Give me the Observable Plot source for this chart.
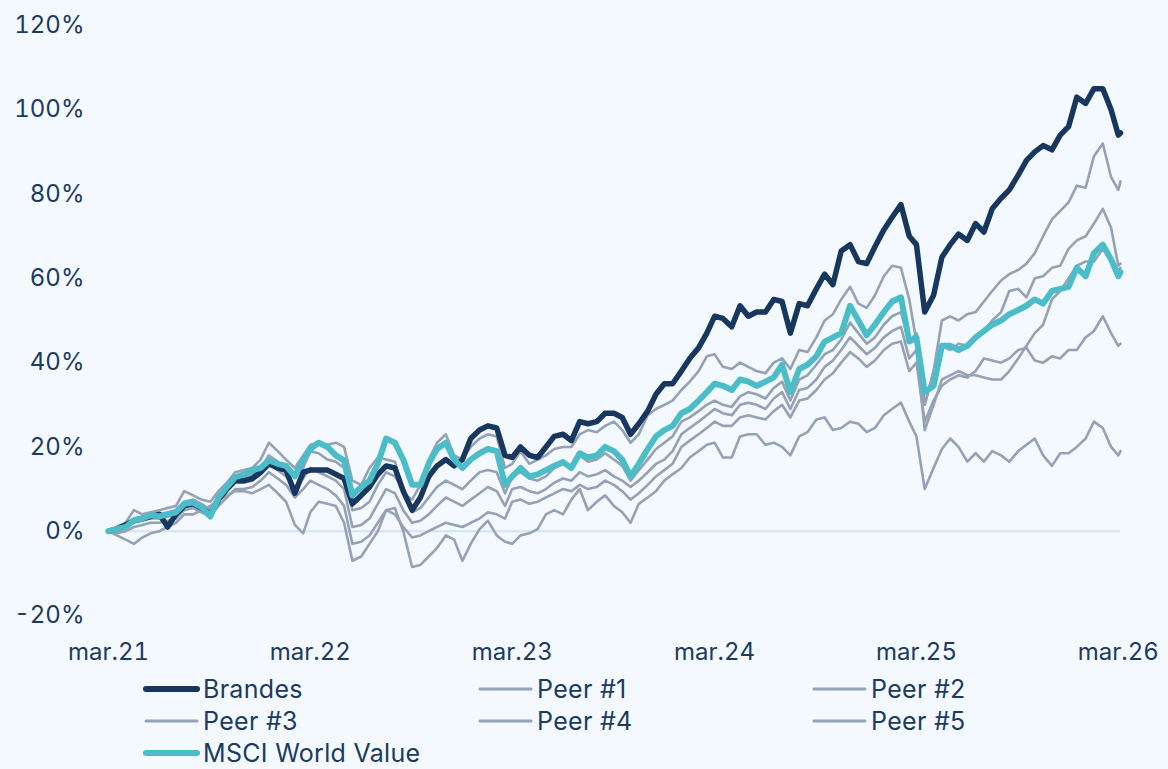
<!DOCTYPE html>
<html>
<head>
<meta charset="utf-8">
<script src="https://cdn.jsdelivr.net/npm/d3@7"></script>
<script src="https://cdn.jsdelivr.net/npm/@observablehq/plot@0.6"></script>
<style>
  html, body { margin: 0; padding: 0; background: #f3f9fe; }
  #wrap { position: relative; width: 1168px; height: 769px; background: #f3f9fe; overflow: hidden;
          font-family: Inter, "Open Sans", sans-serif; color: #1d3a5f; }
  #chart svg { display: block; }
  .item { position: absolute; height: 26px; line-height: 26px; display: flex; align-items: center; font-size: 25px; letter-spacing: 0.3px; white-space: nowrap; }
  .item svg { display: block; margin-right: 3px; }
</style>
</head>
<body>
<div id="wrap">
  <div id="chart"></div>
  <div id="legend"></div>
</div>
<script>
// ---- data (cumulative return, %) ----
const dates = [
"2021-03-01","2021-03-16","2021-04-01","2021-04-16","2021-05-01","2021-05-16","2021-06-01","2021-06-16","2021-07-01","2021-07-16","2021-08-01","2021-08-16","2021-09-01","2021-09-16","2021-10-01","2021-10-16","2021-11-01","2021-11-16","2021-12-01","2021-12-16",
"2022-01-01","2022-01-16","2022-02-01","2022-02-16","2022-03-01","2022-03-16","2022-04-01","2022-04-16","2022-05-01","2022-05-16","2022-06-01","2022-06-16","2022-07-01","2022-07-16","2022-08-01","2022-08-16","2022-09-01","2022-09-16","2022-10-01","2022-10-16","2022-11-01","2022-11-16","2022-12-01","2022-12-16",
"2023-01-01","2023-01-16","2023-02-01","2023-02-16","2023-03-01","2023-03-16","2023-04-01","2023-04-16","2023-05-01","2023-05-16","2023-06-01","2023-06-16","2023-07-01","2023-07-16","2023-08-01","2023-08-16","2023-09-01","2023-09-16","2023-10-01","2023-10-16","2023-11-01","2023-11-16","2023-12-01","2023-12-16",
"2024-01-01","2024-01-16","2024-02-01","2024-02-16","2024-03-01","2024-03-16","2024-04-01","2024-04-16","2024-05-01","2024-05-16","2024-06-01","2024-06-16","2024-07-01","2024-07-16","2024-08-01","2024-08-16","2024-09-01","2024-09-16","2024-10-01","2024-10-16","2024-11-01","2024-11-16","2024-12-01","2024-12-16",
"2025-01-01","2025-01-16","2025-02-01","2025-02-16","2025-03-01","2025-03-16","2025-04-01","2025-04-16","2025-05-01","2025-05-16","2025-06-01","2025-06-16","2025-07-01","2025-07-16","2025-08-01","2025-08-16","2025-09-01","2025-09-16","2025-10-01","2025-10-16","2025-11-01","2025-11-16","2025-12-01","2025-12-16",
"2026-01-01","2026-01-16","2026-02-01","2026-02-16","2026-03-01","2026-03-05"
];

const brandes = [
0,0.5,1.5,2.5,3,3.5,4,1,4,6,6.5,5.5,4,7.5,10,12,12,12.5,14,16,15,14.5,9,14,14.5,
14.5,14.5,13.5,12.5,6.5,8.5,10.5,13.5,15.5,15,9.5,5,8,13,15.5,17,15.5,17,22,24,25,24.5,18,17.5,
20,18,17.5,20,22.5,23,21.5,26,25.5,26,28,28,27,23,25.5,28.5,32.5,35,35,38,41,43.5,47,51,
50.5,48.5,53.5,51,52,52,55,54.5,47,54,53.5,57.5,61,58.5,66.5,68,64,63.5,67.5,71.5,74.5,77.5,70,68,
52,56,65,68,70.5,69,73,71,76.5,79,81,84.5,88,90,91.5,90.5,94,96,103,101.5,105,105,100,94,94.5
];

const peer1 = [
0,1,2,5,4,4.5,5,5.5,6,9.5,8.5,7.5,7,9.5,11.5,14,14.5,15,17,21,19,17,15,18,20.5,
21,20.5,21,20,12,11,15,17.5,17,16.5,9,7.5,11,17,21,23,18,17,20,22,23,22.5,15,16,
19,16,17,18,19.5,20,20,23,24,23.5,25,26,24,21,23,27.5,29,30,31,33.5,35.5,38,41.5,42,
39,38.5,40,39,38,37.5,40,41,38.5,43,42.5,46,50,51.5,55,58,54,53,56,60.5,63,62.5,55,45,
30,38,50,51,50,51.5,52,54.5,57,59.5,61,62,63.5,66,70,74,76,78,82,81.5,89,92,84,81,83
];

const peer2 = [
0,0.5,1.5,3,3.5,4,4,4.5,5,7,7.5,6.5,5,8.5,11,13,13,13.5,15,18,16.5,15,13,15,19,
18.5,17,16.5,15,5,5.5,7,11,14,13,10,4.5,5.5,8,10.5,12,11,10,12,14,14.5,14,9,13,
14,12.5,12,13,15,16,15,18,16.5,17,18.5,17,15.5,12,14.5,17,19.5,21,22.5,26,27,28.5,30,31,
30,29.5,32,33,32.5,31.5,34,35.5,31,36,37,39.5,42,43,45.5,49.5,47,44.5,46,49,51,52,45,47,
30,38,44,43,44.5,44,46,47.5,50,52,57,57.5,55.5,60,60.5,62.5,63,67,69,70,73,76.5,72,63,63.5
];

const peer3 = [
0,-0.5,0,1,1.5,2,2,2.5,3,5,5.5,4.5,3.5,6,8,10,10,10.5,12,14,12.5,11,8,10,12,
11,10,8.5,6,-3,-2.5,-1,2,5,4,1,-1.5,-1,0,1,2,1.5,1,2,3,4.5,4,3,7,
7.5,6.5,7,8,9,10,9.5,11,10,10.5,12,11,9.5,7.5,9,11,13,14.5,16,20,21.5,23,24.5,26,
25,25,27,27.5,27,26.5,28.5,30,27,31,31.5,33.5,36,37.5,40,42.5,41,39,40.5,43,44.5,45,38,40,
26,31,34.5,36,37,36.5,38,41,40.5,40,41,43,43.5,40.5,40,41.5,41,43,43,46,47.5,51,47,44,44.5
];

const peer4 = [
0,0,1,2,2.5,3,3,3.5,4,6,6.5,5.5,4.5,7.5,9.5,11.5,11.5,12,13.5,16,14.5,13,10.5,12.5,15,
14,13,12,10,1,1.5,3,6.5,10,9,5,2,2.5,4,6,8,7,6,7.5,9,10.5,9.5,6,10,
10.5,9.5,9,10,11.5,12.5,12,14,13,13.5,14.5,13,12,10.5,12,14,16,17,19,23,24.5,26,27.5,29,
28,27.5,30,30.5,30,29,31.5,33,29,33.5,34,36,39,40.5,43,46,44,42,43.5,46,47.5,48.5,41,43,
24,30,36,37,38,37,37,36.5,36,36,38,41,44,47,49,55,57,60,63,64,64,67,64,62,62.5
];

const peer5 = [
0,-1,-2,-3,-1.5,-0.5,0,1,2,4,4,5,6,7.5,8.5,9.5,9.5,9,10,11,9,7,1.5,-0.5,4.5,
7,6.5,6,2,-7,-6,-3,0,5,5.5,0,-8.5,-8,-6,-4,-1,-2,-7,-3,0.5,2.5,-1,-2.5,-3,
-1,-0.5,0.5,4,5,4,7.5,10,5,7,8.5,6,4.5,2,6.5,8,9.5,12,13.5,15,17.5,19,20.5,21,
17.5,17.5,22.5,23,23,20.5,21,20,18,22.5,23.5,26.5,27,24,24.5,26,25.5,23.5,24.5,27.5,29,30.5,26,22.5,
10,15,19.5,22,20,16.5,18.5,16.5,19,18,16.5,19,20.5,22,18,15.5,18.5,18.5,20,22,26,24.5,20,18,19
];

const msci = [
0,0.5,1,2.6,3,3.8,3.5,4,4.5,6.5,6.8,5.7,3.5,8,10.5,12.8,13.5,14.5,15,16.8,16,15.5,13,17,19.5,
21,20,18,16.8,8.5,10.5,12,16,22,21,17,11,11,16,19.5,21,17,15,17,18.5,19.5,19,11,13,
15,13,13.5,14.5,15.5,16.4,15,18.5,17.5,18,20,19,17,13,16,19.5,22.5,24,25,28,29,31,33,35,
34.5,33.5,36,35.5,34.5,35.5,36.5,39.5,33,38.5,39.5,41.5,45,46,47,53.5,50,46.5,49,52,54.5,55.5,45,46,
33,34.5,44,44,43,44,46,47.5,49,50,51.5,52.5,53.5,55,54,57,57.5,58,62.5,60.5,66,68,64.5,60.5,61.5
];

const seriesNames = ["Brandes", "Peer #1", "Peer #2", "Peer #3", "Peer #4", "Peer #5", "MSCI World Value"];
const seriesValues = [brandes, peer1, peer2, peer3, peer4, peer5, msci];
const xTickDates = ["2021-03-01", "2022-03-01", "2023-03-01", "2024-03-01", "2025-03-01", "2026-03-01"];
const xTickLabels = ["mar.21", "mar.22", "mar.23", "mar.24", "mar.25", "mar.26"];
const yTicks = [-20, 0, 20, 40, 60, 80, 100, 120];

// ---- styles ----
const colorBrandes = "#17375e";
const colorPeer = "#95a1b4";
const colorMsci = "#4bbdc8";
const textColor = "#1d3a5f";

const parse = d3.utcParse("%Y-%m-%d");
const rows = [];
seriesNames.forEach((name, s) => {
  seriesValues[s].forEach((v, i) => rows.push({ date: parse(dates[i]), value: v, series: name }));
});
const peerRows = rows.filter(r => r.series.startsWith("Peer"));
const brandesRows = rows.filter(r => r.series === "Brandes");
const msciRows = rows.filter(r => r.series === "MSCI World Value");
const labelMap = new Map(xTickDates.map((d, i) => [+parse(d), xTickLabels[i]]));

const chart = Plot.plot({
  width: 1168,
  height: 682,
  marginLeft: 108,
  marginRight: 48,
  marginTop: 25,
  marginBottom: 67,
  style: { background: "transparent", fontFamily: "Inter, 'Open Sans', sans-serif", fontSize: "24px", color: textColor, overflow: "visible" },
  x: { type: "utc", domain: [parse(dates[0]), parse(dates[dates.length - 1])] },
  y: { domain: [-20, 120] },
  marks: [
    Plot.ruleY([0], { stroke: "#d3e3f3", strokeWidth: 2 }),
    Plot.axisY({ ticks: yTicks, tickFormat: d => d + "%", tickSize: 0, tickPadding: 24, label: null, fill: textColor }),
    Plot.axisX({ ticks: xTickDates.map(parse), tickFormat: d => labelMap.get(+d), tickSize: 0, tickPadding: 27, label: null, fill: textColor }),
    Plot.lineY(peerRows, { x: "date", y: "value", z: "series", stroke: colorPeer, strokeWidth: 2.6, strokeLinejoin: "round" }),
    Plot.lineY(brandesRows, { x: "date", y: "value", stroke: colorBrandes, strokeWidth: 5.5, strokeLinejoin: "round", strokeLinecap: "round" }),
    Plot.lineY(msciRows, { x: "date", y: "value", stroke: colorMsci, strokeWidth: 6, strokeLinejoin: "round", strokeLinecap: "round" })
  ]
});
document.getElementById("chart").appendChild(chart);

// ---- legend ----
const legend = document.getElementById("legend");
const legendStyle = {
  "Brandes": { color: colorBrandes, width: 6 },
  "MSCI World Value": { color: colorMsci, width: 6 }
};
seriesNames.forEach((name, i) => {
  const row = Math.floor(i / 3), col = i % 3;
  const st = legendStyle[name] || { color: colorPeer, width: 3 };
  const item = document.createElement("div");
  item.className = "item";
  item.style.left = (143 + 334 * col) + "px";
  item.style.top = (676 + 32 * row) + "px";
  item.innerHTML = `<svg width="57" height="12"><line x1="3" x2="54" y1="6" y2="6" stroke="${st.color}" stroke-width="${st.width}" stroke-linecap="round"/></svg><span>${name}</span>`;
  legend.appendChild(item);
});
</script>
</body>
</html>
